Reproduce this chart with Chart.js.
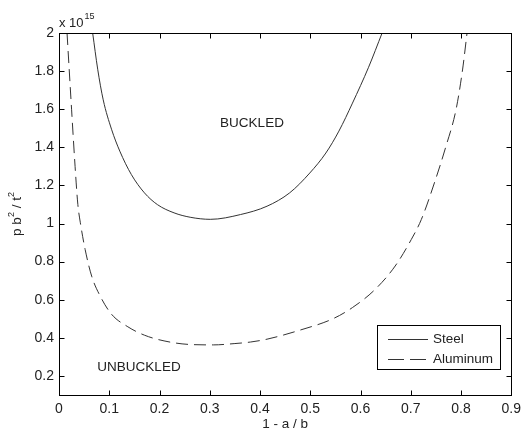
<!DOCTYPE html>
<html>
<head>
<meta charset="utf-8">
<script src="https://cdn.jsdelivr.net/npm/chart.js@4/dist/chart.umd.min.js"></script>
<style>
  html, body { margin: 0; padding: 0; background: #fff; }
  #wrap { width: 527px; height: 433px; }
</style>
</head>
<body>
<div id="wrap"><canvas id="plate" width="527" height="433"></canvas></div>
<script>
// --- Data (y values in units of 10^15) ---
const xTicks = [0, 0.1, 0.2, 0.3, 0.4, 0.5, 0.6, 0.7, 0.8, 0.9];
const yTicks = [0.2, 0.4, 0.6, 0.8, 1, 1.2, 1.4, 1.6, 1.8, 2];

const steelX = [0.067, 0.077, 0.088, 0.1045, 0.121, 0.144, 0.170, 0.196, 0.229, 0.261, 0.301, 0.361, 0.414, 0.459, 0.499, 0.531, 0.557, 0.584, 0.616, 0.643];
const steelY = [2.0, 1.81, 1.649, 1.495, 1.38, 1.257, 1.161, 1.099, 1.056, 1.033, 1.022, 1.047, 1.091, 1.161, 1.265, 1.37, 1.485, 1.632, 1.82, 2.0];

const aluX = [0.016, 0.025, 0.032, 0.0375, 0.0425, 0.052, 0.065, 0.082, 0.1045, 0.137, 0.170, 0.209, 0.261, 0.307, 0.35, 0.381, 0.414, 0.479, 0.545, 0.584, 0.629, 0.669, 0.701, 0.721, 0.747, 0.77, 0.79, 0.803, 0.812];
const aluY = [2.0, 1.6, 1.3, 1.1, 1.004, 0.864, 0.724, 0.619, 0.524, 0.458, 0.414, 0.384, 0.365, 0.363, 0.37, 0.378, 0.393, 0.44, 0.5, 0.559, 0.654, 0.777, 0.916, 1.021, 1.213, 1.405, 1.597, 1.806, 2.0];

const toPoints = (xs, ys) => xs.map((x, i) => ({ x: x, y: ys[i] }));

const FONT = '"Liberation Sans", Arial, sans-serif';
const INK = '#222';

// Draws box, inward ticks, annotations and legend (MATLAB look)
const matlabFrame = {
    id: 'matlabFrame',
    afterDraw(chart) {
        const { ctx, chartArea: a, scales } = chart;
        const L = Math.round(a.left) + 0.5, R = Math.round(a.right) + 0.5;
        const T = Math.round(a.top) + 0.5, B = Math.round(a.bottom) + 0.5;
        ctx.save();
        ctx.strokeStyle = '#000';
        ctx.lineWidth = 1;
        ctx.setLineDash([]);
        ctx.strokeRect(L, T, R - L, B - T);

        // inward ticks
        const tl = 5;
        ctx.beginPath();
        xTicks.forEach(v => {
            const px = Math.round(scales.x.getPixelForValue(v)) + 0.5;
            ctx.moveTo(px, B); ctx.lineTo(px, B - tl);
            ctx.moveTo(px, T); ctx.lineTo(px, T + tl);
        });
        yTicks.forEach(v => {
            const py = Math.round(scales.y.getPixelForValue(v)) + 0.5;
            ctx.moveTo(L, py); ctx.lineTo(L + tl, py);
            ctx.moveTo(R, py); ctx.lineTo(R - tl, py);
        });
        ctx.stroke();

        ctx.fillStyle = INK;
        ctx.textBaseline = 'alphabetic';

        // exponent label
        ctx.font = '13px ' + FONT;
        ctx.textAlign = 'left';
        ctx.fillText('x 10', 59, 27);
        const w10 = ctx.measureText('x 10').width;
        ctx.font = '9px ' + FONT;
        ctx.fillText('15', 59 + w10 + 1, 19);

        // region labels
        ctx.font = '13.5px ' + FONT;
        ctx.textAlign = 'center';
        ctx.textBaseline = 'middle';
        ctx.fillText('BUCKLED', 252, 123);
        ctx.fillText('UNBUCKLED', 139, 367);

        // x axis title
        ctx.fillText('1 - a / b', (a.left + a.right) / 2, 424);

        // y axis title with superscripts, rotated
        ctx.save();
        ctx.translate(17, (a.top + a.bottom) / 2);
        ctx.rotate(-Math.PI / 2);
        const parts = [['p b', 13.5, 0], ['2', 9, -5], [' / t', 13.5, 0], ['2', 9, -5]];
        let total = 0;
        parts.forEach(p => { ctx.font = p[1] + 'px ' + FONT; total += ctx.measureText(p[0]).width; });
        let cx = -total / 2;
        ctx.textAlign = 'left';
        ctx.textBaseline = 'middle';
        parts.forEach(p => {
            ctx.font = p[1] + 'px ' + FONT;
            ctx.fillText(p[0], cx, p[2]);
            cx += ctx.measureText(p[0]).width;
        });
        ctx.restore();

        // legend
        const lx = 377.5, ly = 325.5, lw = 123, lh = 44;
        ctx.fillStyle = '#fff';
        ctx.fillRect(lx, ly, lw, lh);
        ctx.strokeStyle = '#000';
        ctx.strokeRect(lx, ly, lw, lh);
        chart.data.datasets.forEach((ds, i) => {
            const yy = Math.round(ly + 13 + i * 20) + 0.5;
            ctx.strokeStyle = ds.borderColor;
            ctx.lineWidth = ds.borderWidth;
            ctx.setLineDash(i === 1 ? [16, 6] : []);
            ctx.beginPath();
            ctx.moveTo(388, yy); ctx.lineTo(428, yy);
            ctx.stroke();
            ctx.setLineDash([]);
            ctx.fillStyle = INK;
            ctx.font = '13.5px ' + FONT;
            ctx.textAlign = 'left';
            ctx.textBaseline = 'middle';
            ctx.fillText(ds.label, 433, yy);
        });
        ctx.restore();
    }
};

const tickLabel = v => String(+(+v).toFixed(1));

new Chart(document.getElementById('plate'), {
    type: 'scatter',
    data: {
        datasets: [{
            label: 'Steel',
            data: toPoints(steelX, steelY),
            showLine: true,
            borderColor: '#333',
            borderWidth: 1,
            pointRadius: 0,
            cubicInterpolationMode: 'monotone'
        }, {
            label: 'Aluminum',
            data: toPoints(aluX, aluY),
            showLine: true,
            borderColor: '#333',
            borderWidth: 1,
            borderDash: [12, 6],
            pointRadius: 0,
            cubicInterpolationMode: 'monotone'
        }]
    },
    options: {
        responsive: false,
        animation: false,
        devicePixelRatio: 1,
        layout: { padding: { left: 0, top: 33, right: 8, bottom: 0 } },
        plugins: { legend: { display: false }, tooltip: { enabled: false } },
        scales: {
            x: {
                type: 'linear', min: 0, max: 0.9,
                grid: { display: false, drawTicks: false },
                border: { display: false },
                afterBuildTicks: s => { s.ticks = xTicks.map(v => ({ value: v })); },
                afterFit: s => { s.height = 38; },
                ticks: { color: INK, font: { family: FONT, size: 14 }, padding: 6, maxRotation: 0, callback: tickLabel }
            },
            y: {
                type: 'linear', min: 0.1, max: 2,
                grid: { display: false, drawTicks: false },
                border: { display: false },
                afterBuildTicks: s => { s.ticks = yTicks.map(v => ({ value: v })); },
                afterFit: s => { s.width = 59; },
                ticks: { color: INK, font: { family: FONT, size: 14 }, padding: 5, callback: tickLabel }
            }
        }
    },
    plugins: [matlabFrame]
});
</script>
</body>
</html>
